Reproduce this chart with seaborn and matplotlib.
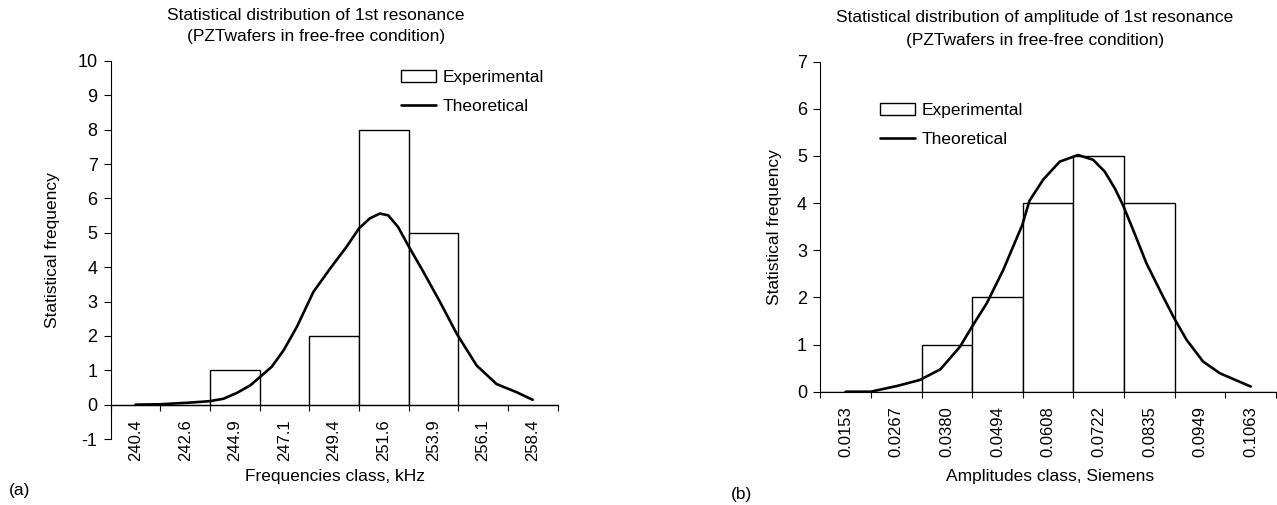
import numpy as np
import seaborn as sns
import matplotlib.pyplot as plt
from matplotlib.patches import Patch
from matplotlib.lines import Line2D

# (a) frequency classes, kHz
freq_classes = ["240.4", "242.6", "244.9", "247.1", "249.4", "251.6", "253.9", "256.1", "258.4"]
freq_counts = [0, 0, 1, 0, 2, 8, 5, 0, 0]
# theoretical curve (a)
freq_theo_x = [240.40, 241.50, 242.88, 243.75, 244.38, 244.99, 245.60, 246.05, 246.57,
               247.11, 247.71, 248.46, 249.22, 249.96, 250.53, 251.02, 251.47, 251.85,
               252.30, 252.75, 253.45, 254.19, 254.96, 255.86, 256.76, 257.68, 258.40]
freq_theo_y = [0.00, 0.01, 0.06, 0.10, 0.17, 0.34, 0.56, 0.81, 1.10,
               1.58, 2.26, 3.28, 3.96, 4.59, 5.13, 5.42, 5.56, 5.51,
               5.17, 4.64, 3.86, 3.00, 2.06, 1.14, 0.60, 0.36, 0.14]

# (b) amplitude classes, Siemens
amp_classes = ["0.0153", "0.0267", "0.0380", "0.0494", "0.0608", "0.0722", "0.0835", "0.0949", "0.1063"]
amp_counts = [0, 0, 1, 2, 4, 5, 4, 0, 0]
amp_theo_x = [0.0153, 0.0209, 0.0268, 0.0320, 0.0366, 0.0410, 0.0437, 0.0470, 0.0507,
              0.0550, 0.0566, 0.0597, 0.0634, 0.0675, 0.0709, 0.0735, 0.0758, 0.0776,
              0.0799, 0.0829, 0.0866, 0.0891, 0.0919, 0.0956, 0.0994, 0.1063]
amp_theo_y = [0.00, 0.00, 0.12, 0.25, 0.475, 0.955, 1.38, 1.875, 2.58,
              3.54, 4.05, 4.50, 4.88, 5.02, 4.92, 4.67, 4.31, 3.96,
              3.43, 2.72, 2.02, 1.56, 1.10, 0.64, 0.39, 0.11]

sns.set_theme(style="ticks")
plt.rcParams['font.family'] = ['Liberation Sans', 'DejaVu Sans']
plt.rcParams['axes.linewidth'] = 0.8
plt.rcParams['axes.unicode_minus'] = False
for k in ['text.color', 'axes.labelcolor', 'xtick.color', 'ytick.color', 'axes.edgecolor']:
    plt.rcParams[k] = 'black'

W, H = 1277, 505
fig = plt.figure(figsize=(W / 100, H / 100), dpi=100)


def px(x, y):
    return x / W, 1 - y / H


def panel(rect, classes, counts, tx, ty, ylim):
    ax = fig.add_axes(rect)
    n = len(classes)
    sns.barplot(x=classes, y=counts, ax=ax, color="white", edgecolor="black",
                linewidth=1.0, width=1.0, saturation=1)
    first, last = float(classes[0]), float(classes[-1])
    step = (last - first) / (n - 1)
    pos = [(v - first) / step for v in tx]
    sns.lineplot(x=pos, y=ty, ax=ax, color="black", linewidth=1.9)
    ax.set_xlim(-0.5, n - 0.5)
    ax.set_ylim(*ylim)
    ax.set_yticks(range(ylim[0], ylim[1] + 1))
    ax.set_xticks(range(n))
    ax.set_xticklabels(classes)
    ax.set_xticks(np.arange(n + 1) - 0.5, minor=True)
    ax.tick_params(axis="x", which="major", length=0, pad=10.5, labelrotation=90, labelsize=12)
    ax.tick_params(axis="x", which="minor", length=4.5, width=0.8, direction="out")
    ax.tick_params(axis="y", length=5, width=0.8, pad=4.5, labelsize=13)
    ax.spines["bottom"].set_position(("data", 0))
    ax.spines["top"].set_visible(False)
    ax.spines["right"].set_visible(False)
    ax.set_xlabel("")
    ax.set_ylabel("")
    ax.set_facecolor("white")
    return ax


ax1 = panel([110.7 / W, 66 / H, 446.8 / W, 378 / H],
            freq_classes, freq_counts, freq_theo_x, freq_theo_y, (-1, 10))
ax2 = panel([820.3 / W, 113.3 / H, 455.7 / W, 330 / H],
            amp_classes, amp_counts, amp_theo_x, amp_theo_y, (0, 7))

handles = [Patch(facecolor="white", edgecolor="black", linewidth=1.0),
           Line2D([], [], color="black", linewidth=1.9)]
labels = ["Experimental", "Theoretical"]
for ax, (lx, ly) in [(ax1, (401, 70)), (ax2, (880, 103))]:
    ax.legend(handles, labels, loc="upper left", bbox_to_anchor=px(lx, ly),
              bbox_transform=fig.transFigure, frameon=False, borderpad=0,
              borderaxespad=0, handlelength=2.0, handletextpad=0.4,
              labelspacing=0.8, fontsize=12.5)

fs = 12.5
fig.text(*px(315.5, 15.5), "Statistical distribution of 1st resonance", ha="center", va="center", fontsize=fs)
fig.text(*px(316.3, 37), "(PZTwafers in free-free condition)", ha="center", va="center", fontsize=fs)
fig.text(*px(1034.8, 17.3), "Statistical distribution of amplitude of 1st resonance", ha="center", va="center", fontsize=fs)
fig.text(*px(1034.8, 40.7), "(PZTwafers in free-free condition)", ha="center", va="center", fontsize=fs)

fig.text(*px(335, 477), "Frequencies class, kHz", ha="center", va="center", fontsize=fs)
fig.text(*px(1049.6, 477), "Amplitudes class, Siemens", ha="center", va="center", fontsize=fs)
fig.text(*px(53, 250), "Statistical frequency", ha="center", va="center", rotation=90, fontsize=fs)
fig.text(*px(774.3, 227.5), "Statistical frequency", ha="center", va="center", rotation=90, fontsize=fs)
fig.text(*px(20, 491), "(a)", ha="center", va="center", fontsize=fs)
fig.text(*px(742, 494), "(b)", ha="center", va="center", fontsize=fs)

fig.savefig("out.png", dpi=100, facecolor="white")
